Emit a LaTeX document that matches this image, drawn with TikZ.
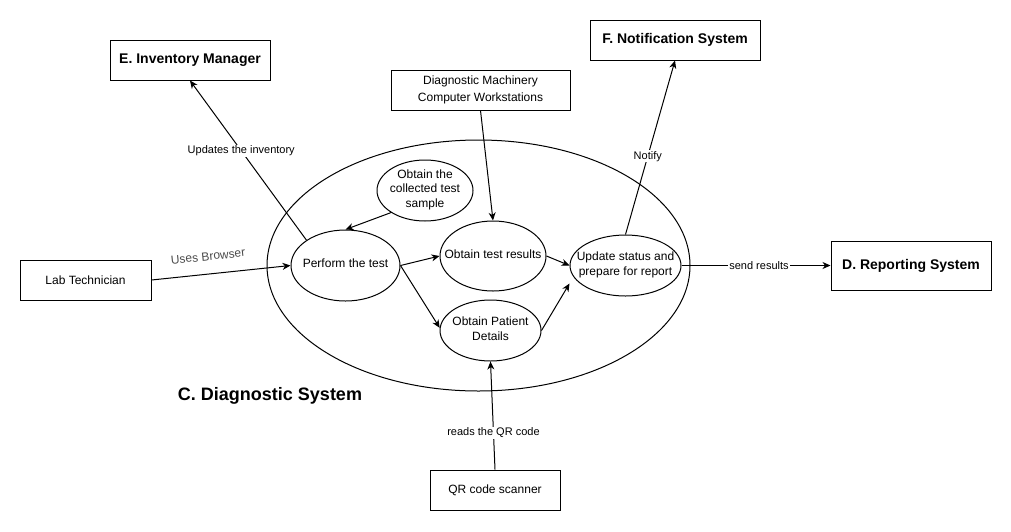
\documentclass[tikz,border=0pt]{standalone}
\usepackage{fontspec}
\setmainfont{Liberation Sans}
\usetikzlibrary{shapes.geometric,arrows.meta}
\newcommand\ptext[1]{\raisebox{-5pt}{\smash{\makebox[0pt]{\begin{tabular}{@{}c@{}}#1\end{tabular}}}}}
\begin{document}
\begin{tikzpicture}[x=1pt,y=-1pt,
  every node/.style={font=\fontsize{12}{14.5}\selectfont},
  box/.style={draw,line width=1pt,rectangle,inner sep=0pt,align=center},
  proc/.style={draw,line width=1pt,ellipse,inner sep=0pt},
  ttl/.style={font=\bfseries\fontsize{14}{16}\selectfont},
  lbl/.style={font=\fontsize{11}{13}\selectfont,fill=white,inner sep=1pt},
  arr/.style={line width=1pt,-{Stealth[length=8pt,width=7pt,inset=2.5pt]}},
  ln/.style={line width=1pt}]
\useasboundingbox[fill=white] (0,0) rectangle (1011,531);
% system boundary
\node[proc, minimum width=423pt, minimum height=251pt] (sys) at (478.5,265.5) {};
\node[font=\bfseries\fontsize{18}{20}\selectfont] (ctitle) at (270,396) {C. Diagnostic System};
% external entities
\node[box, ttl, minimum width=160pt, minimum height=40pt] (inv) at (190,60) {E. Inventory Manager};
\node[box, minimum width=179pt, minimum height=40pt, font=\fontsize{12}{16.5}\selectfont] (mach) at (480.5,90) {Diagnostic Machinery\\Computer Workstations};
\node[box, ttl, minimum width=170pt, minimum height=40pt] (notif) at (675,40) {F. Notification System};
\node[box, ttl, minimum width=160pt, minimum height=49pt] (rep) at (911,265.5) {D. Reporting System};
\node[box, minimum width=131pt, minimum height=40pt] (lab) at (85.5,280) {Lab Technician};
\node[box, minimum width=130pt, minimum height=40pt] (qr) at (495,490) {QR code scanner};
% processes
\node[proc, minimum width=109pt, minimum height=71pt] (perf) at (345.5,265.5) {\ptext{Perform the test}};
\node[proc, minimum width=96pt, minimum height=61pt] (samp) at (425,190.5) {\ptext{Obtain the\\collected test\\sample}};
\node[proc, minimum width=106pt, minimum height=70pt] (res) at (493,256) {\ptext{Obtain test results}};
\node[proc, minimum width=111pt, minimum height=61pt] (upd) at (625.5,265.5) {\ptext{Update status and\\prepare for report}};
\node[proc, minimum width=101pt, minimum height=61pt] (pat) at (490.5,330.5) {\ptext{Obtain Patient\\Details}};
% connectors
\draw[arr] (lab.east) -- node[pos=0.42, sloped, above=13pt, inner sep=0pt, text=black!70] {Uses Browser} (perf.west);
\draw[arr] (samp.213) -- (perf.north);
\draw[arr] (perf.147) -- node[lbl, pos=0.56] {Updates the inventory} (inv.south);
\draw[arr] (mach.south) -- (res.north);
\draw[arr] (perf.east) -- (res.west);
\draw[arr] (perf.east) -- (pat.177);
\draw[arr] (res.east) -- (upd.west);
\draw[arr] (pat.east) -- ([yshift=-18pt]upd.west);
\draw[arr] (upd.north) -- node[lbl, pos=0.45] {Notify} (notif.south);
\draw[arr] (upd.east) -- node[lbl, pos=0.52] {send results} (rep.west);
\draw[arr] (qr.north) -- node[lbl, pos=0.34] {reads the QR code} (pat.south);
\end{tikzpicture}
\end{document}
